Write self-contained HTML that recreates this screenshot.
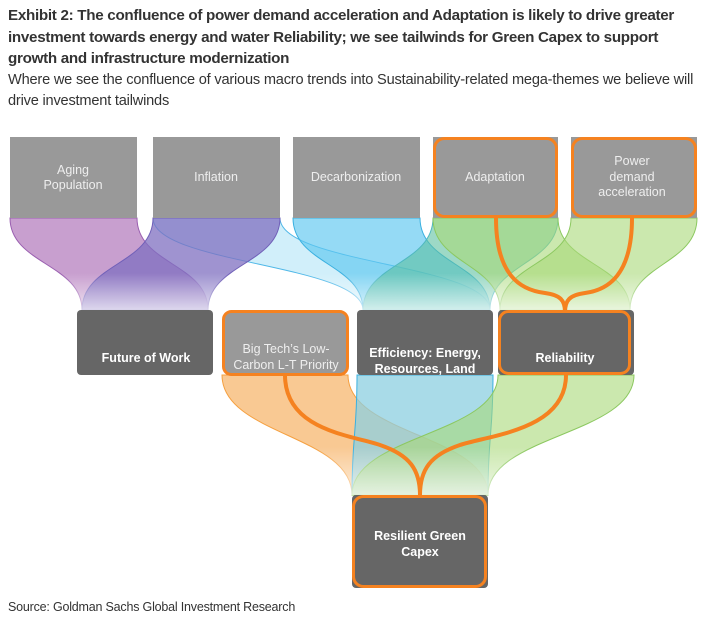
<!DOCTYPE html>
<html><head><style>
body{margin:0;width:703px;height:623px;background:#fff;font-family:"Liberation Sans",sans-serif;position:relative;overflow:hidden}
.t{position:absolute;left:8px;top:5px;width:688px;font-weight:bold;font-size:15.2px;line-height:21.5px;color:#333;letter-spacing:-0.3px}
.s{position:absolute;left:8px;top:70px;width:695px;font-size:14.6px;line-height:21px;color:#333;letter-spacing:-0.2px}
.src{position:absolute;left:8px;top:600px;font-size:12.5px;color:#333;letter-spacing:-0.2px}
</style></head><body>
<div class="t">Exhibit 2: The confluence of power demand acceleration and Adaptation is likely to drive greater investment towards energy and water Reliability; we see tailwinds for Green Capex to support growth and infrastructure modernization</div>
<div class="s">Where we see the confluence of various macro trends into Sustainability-related mega-themes we believe will drive investment tailwinds</div>
<svg style="position:absolute;left:0;top:0" width="703" height="623">
<defs>
<linearGradient id="fd" x1="0" y1="0" x2="0" y2="1"><stop offset="0.6" stop-color="#fff" stop-opacity="0"/><stop offset="1" stop-color="#fff" stop-opacity="0.7"/></linearGradient>
</defs>
<g stroke-width="1">
<path d="M153 218 C153 264,363 264,363 310 L490 310 C490 264,280 264,280 218Z" fill="#b3e4f7" fill-opacity="0.6" stroke="#4fb8e8"/>
<path d="M10 218 C10 264,82 264,82 310 L208 310 C208 264,137 264,137 218Z" fill="#b67fbf" fill-opacity="0.75" stroke="#9a5fb0"/>
<path d="M153 218 C153 264,82 264,82 310 L208 310 C208 264,280 264,280 218Z" fill="#7f6fc0" fill-opacity="0.75" stroke="#7060b8"/>
<path d="M293 218 C293 264,363 264,363 310 L490 310 C490 264,420 264,420 218Z" fill="#5cc6f0" fill-opacity="0.65" stroke="#3ab0e0"/>
<path d="M433 218 C433 264,363 264,363 310 L490 310 C490 264,558 264,558 218Z" fill="#5cc0a0" fill-opacity="0.6" stroke="#4fb8c0"/>
<path d="M433 218 C433 264,500 264,500 310 L630 310 C630 264,558 264,558 218Z" fill="#a8d878" fill-opacity="0.6" stroke="#8cc860"/>
<path d="M571 218 C571 264,500 264,500 310 L630 310 C630 264,697 264,697 218Z" fill="#a8d878" fill-opacity="0.6" stroke="#8cc860"/>
<rect x="0" y="218" width="703" height="92" fill="url(#fd)"/>
<path d="M222 375 C222 435,352 435,352 495 L488 495 C488 435,348 435,348 375Z" fill="#f8c080" fill-opacity="0.85" stroke="#f5a040"/>
<path d="M357 375 C357 435,352 435,352 495 L488 495 C488 435,493 435,493 375Z" fill="#8ccfe0" fill-opacity="0.75" stroke="#3ab0e0"/>
<path d="M498 375 C498 435,352 435,352 495 L488 495 C488 435,634 435,634 375Z" fill="#a8d878" fill-opacity="0.6" stroke="#8cc860"/>
<rect x="200" y="375" width="460" height="120" fill="url(#fd)"/>
</g>
<g fill="none" stroke="#f58220" stroke-width="4">
<path d="M496 218 C496 275,520 290,545 293 C560 295,565 300,565 312"/>
<path d="M632 218 C632 275,608 290,585 293 C570 295,565 300,565 312"/>
<path d="M285 375 C285 430,350 435,380 445 C410 455,420 470,420 495"/>
<path d="M566 375 C566 430,490 435,460 445 C430 455,420 470,420 495"/>
</g>
<g fill="#999">
<rect x="10" y="137" width="127" height="81"/>
<rect x="153" y="137" width="127" height="81"/>
<rect x="293" y="137" width="127" height="81"/>
<rect x="433" y="137" width="125" height="81"/>
<rect x="571" y="137" width="126" height="81"/>
</g>
<rect x="434.5" y="138.5" width="122" height="78" rx="10" fill="#999" stroke="#f58220" stroke-width="3"/>
<rect x="572.5" y="138.5" width="123" height="78" rx="10" fill="#999" stroke="#f58220" stroke-width="3"/>
<rect x="77" y="310" width="136" height="65" rx="4" fill="#666"/>
<rect x="223.5" y="311.5" width="124" height="63" rx="8" fill="#999" stroke="#f58220" stroke-width="3"/>
<rect x="357" y="310" width="136" height="65" rx="4" fill="#666"/>
<rect x="498" y="310" width="136" height="65" rx="4" fill="#666"/>
<rect x="499.5" y="311.5" width="130" height="62" rx="9" fill="#666" stroke="#f58220" stroke-width="3"/>
<rect x="352" y="495" width="136" height="93" rx="4" fill="#666"/>
<rect x="353.5" y="496.5" width="132" height="90" rx="10" fill="#666" stroke="#f58220" stroke-width="3"/>
<g font-family="Liberation Sans,sans-serif" font-size="12.5" fill="#eee" text-anchor="middle">
<text x="73" y="174">Aging</text><text x="73" y="189">Population</text>
<text x="216" y="181">Inflation</text>
<text x="356" y="181">Decarbonization</text>
<text x="495" y="181">Adaptation</text>
<text x="632" y="165">Power</text><text x="632" y="181">demand</text><text x="632" y="196">acceleration</text>
<text x="286" y="353">Big Tech’s Low-</text><text x="286" y="369">Carbon L-T Priority</text>
</g>
<g font-family="Liberation Sans,sans-serif" font-size="12.5" font-weight="bold" fill="#fff" text-anchor="middle">
<text x="146" y="362">Future of Work</text>
<text x="425" y="357">Efficiency: Energy,</text><text x="425" y="373">Resources, Land</text>
<text x="565" y="362">Reliability</text>
<text x="420" y="540">Resilient Green</text><text x="420" y="556">Capex</text>
</g>
</svg>
<div class="src">Source: Goldman Sachs Global Investment Research</div>
</body></html>
